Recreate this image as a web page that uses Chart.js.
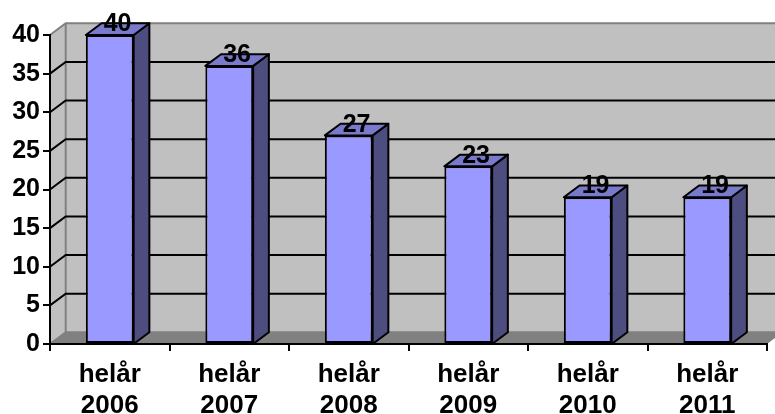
<!DOCTYPE html>
<html>
<head>
<meta charset="utf-8">
<script src="https://cdn.jsdelivr.net/npm/chart.js@4"></script>
<style>
  body { margin: 0; background: #fff; }
</style>
</head>
<body>
<canvas id="chart" width="775" height="414"></canvas>
<script>
const categories = [['helår', '2006'], ['helår', '2007'], ['helår', '2008'], ['helår', '2009'], ['helår', '2010'], ['helår', '2011']];
const values = [40, 36, 27, 23, 19, 19];
const yTicks = [0, 5, 10, 15, 20, 25, 30, 35, 40];

// depth of the fake 3d box
const DX = 15.7, DY = -11.7;

const wallsPlugin = {
  id: 'walls',
  beforeDraw(chart) {
    const ctx = chart.ctx;
    const y = chart.scales.y;
    const area = chart.chartArea;
    const l = area.left, r = area.right, b = area.bottom, t = area.top;
    ctx.save();
    // back wall
    ctx.fillStyle = '#c0c0c0';
    ctx.fillRect(l + DX, t + DY, r - l + 20, b - t);
    // left wall
    ctx.beginPath();
    ctx.moveTo(l, t); ctx.lineTo(l + DX, t + DY); ctx.lineTo(l + DX, b + DY); ctx.lineTo(l, b);
    ctx.closePath();
    ctx.fill();
    // floor
    ctx.fillStyle = '#808080';
    ctx.beginPath();
    ctx.moveTo(l, b); ctx.lineTo(l + DX, b + DY); ctx.lineTo(r + DX, b + DY); ctx.lineTo(r, b);
    ctx.closePath();
    ctx.fill();

    // wall edges
    ctx.strokeStyle = '#808080';
    ctx.lineWidth = 2;
    ctx.beginPath();
    ctx.moveTo(l, t); ctx.lineTo(l + DX, t + DY); ctx.lineTo(r + DX + 20, t + DY);
    ctx.moveTo(l + DX, t + DY); ctx.lineTo(l + DX, b + DY);
    ctx.moveTo(l, b); ctx.lineTo(l + DX, b + DY); ctx.lineTo(r + DX + 20, b + DY);
    ctx.stroke();

    // gridlines on left and back wall
    ctx.strokeStyle = '#000';
    ctx.beginPath();
    yTicks.forEach(v => {
      if (v === 0 || v === 40) return;
      const py = y.getPixelForValue(v);
      ctx.moveTo(l, py);
      ctx.lineTo(l + DX, py + DY);
      ctx.lineTo(r + DX + 20, py + DY);
    });
    ctx.stroke();
    ctx.restore();
  },
  afterDatasetsDraw(chart) {
    const ctx = chart.ctx;
    const meta = chart.getDatasetMeta(0);
    const base = chart.scales.y.getPixelForValue(0);
    ctx.save();
    ctx.lineWidth = 2;
    ctx.strokeStyle = '#000';
    ctx.lineJoin = 'round';
    meta.data.forEach((bar, i) => {
      const half = bar.width / 2;
      const left = bar.x - half, right = bar.x + half, top = bar.y;
      // side face
      ctx.fillStyle = '#4d4d80';
      ctx.beginPath();
      ctx.moveTo(right, top); ctx.lineTo(right + DX, top + DY);
      ctx.lineTo(right + DX, base + DY); ctx.lineTo(right, base);
      ctx.closePath();
      ctx.fill(); ctx.stroke();
      // top face
      ctx.fillStyle = '#7a7acc';
      ctx.beginPath();
      ctx.moveTo(left, top); ctx.lineTo(left + DX, top + DY);
      ctx.lineTo(right + DX, top + DY); ctx.lineTo(right, top);
      ctx.closePath();
      ctx.fill(); ctx.stroke();
      // value label
      ctx.fillStyle = '#000';
      ctx.font = 'bold 25px "Liberation Sans", Arial, sans-serif';
      ctx.textAlign = 'center';
      ctx.textBaseline = 'middle';
      ctx.fillText(String(values[i]), bar.x + DX / 2, top + DY + 1);
    });
    ctx.restore();
  }
};

new Chart(document.getElementById('chart'), {
  type: 'bar',
  data: {
    labels: categories,
    datasets: [{
      data: values,
      backgroundColor: '#9999ff',
      borderColor: '#000',
      borderWidth: 2,
      borderSkipped: false,
      categoryPercentage: 1,
      barPercentage: 0.4
    }]
  },
  options: {
    responsive: false,
    animation: false,
    layout: { padding: { top: 35, right: 8, left: 0, bottom: 0 } },
    plugins: {
      legend: { display: false },
      tooltip: { enabled: false }
    },
    scales: {
      x: {
        afterFit(scale) { scale.height = 70; },
        grid: {
          offset: true,
          drawOnChartArea: false,
          tickLength: 7,
          color: '#000',
          lineWidth: 2
        },
        border: { color: '#000', width: 2 },
        ticks: {
          color: '#000',
          padding: 8,
          maxRotation: 0,
          autoSkip: false,
          font: { family: '"Liberation Sans", Arial', weight: 'bold', size: 26, lineHeight: 1.2 }
        }
      },
      y: {
        min: 0,
        max: 40,
        afterFit(scale) { scale.width = 50; },
        grid: {
          drawOnChartArea: false,
          tickLength: 7,
          color: '#000',
          lineWidth: 2
        },
        border: { color: '#000', width: 2 },
        ticks: {
          stepSize: 5,
          color: '#000',
          padding: 3,
          font: { family: '"Liberation Sans", Arial', weight: 'bold', size: 25 }
        }
      }
    }
  },
  plugins: [wallsPlugin]
});
</script>
</body>
</html>
